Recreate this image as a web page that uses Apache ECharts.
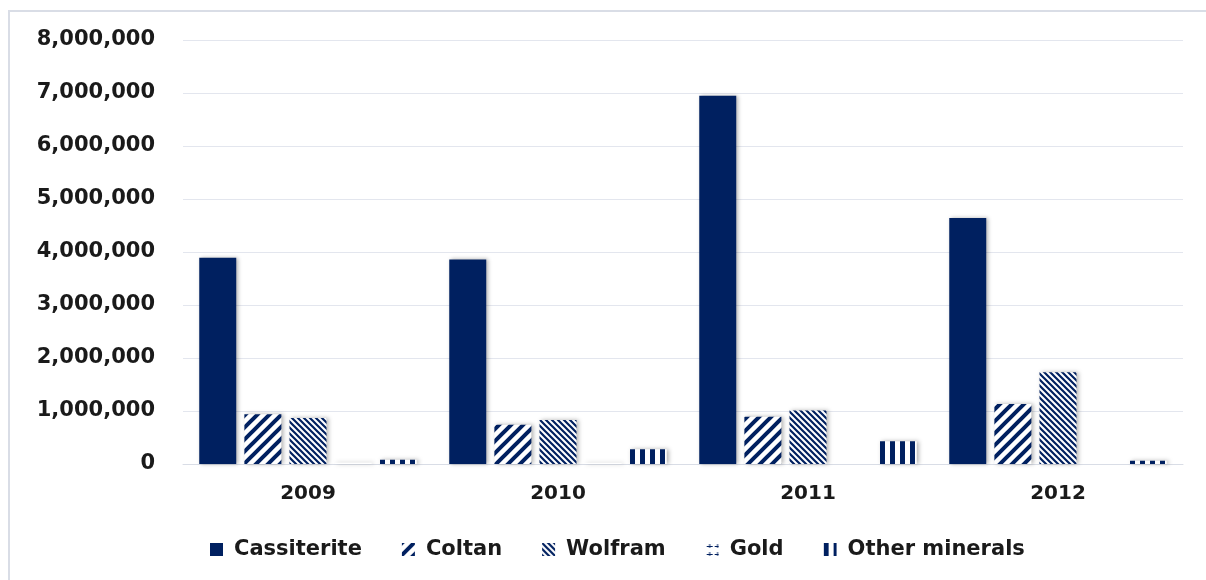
<!DOCTYPE html>
<html>
<head>
<meta charset="utf-8">
<script src="https://cdn.jsdelivr.net/npm/echarts@6/dist/echarts.min.js"></script>
<style>
html,body{margin:0;padding:0;background:#fff;}
#container{width:1206px;height:580px;}
</style>
</head>
<body>
<div id="container"></div>
<script>
var years = ['2009', '2010', '2011', '2012'];
var cassiterite = [3890000, 3860000, 6950000, 4640000];
var coltan = [940000, 740000, 890000, 1130000];
var wolfram = [870000, 830000, 1010000, 1730000];
var gold = [25000, 20000, 0, 0];
var other = [80000, 280000, 430000, 60000];
var yTicks = [0, 1000000, 2000000, 3000000, 4000000, 5000000, 6000000, 7000000, 8000000];

var NAVY = '#002060';

// motifs de remplissage (hachures)
function tile(size, draw) {
    var c = document.createElement('canvas');
    c.width = size;
    c.height = size;
    var ctx = c.getContext('2d');
    ctx.fillStyle = '#fff';
    ctx.fillRect(0, 0, size, size);
    ctx.strokeStyle = NAVY;
    ctx.fillStyle = NAVY;
    draw(ctx, size);
    return {image: c, repeat: 'repeat'};
}
function diag(up, w) {
    return function (ctx, s) {
        ctx.lineWidth = w;
        ctx.beginPath();
        if (up) {
            ctx.moveTo(0, s); ctx.lineTo(s, 0);
            ctx.moveTo(-2, 2); ctx.lineTo(2, -2);
            ctx.moveTo(s - 2, s + 2); ctx.lineTo(s + 2, s - 2);
        } else {
            ctx.moveTo(0, 0); ctx.lineTo(s, s);
            ctx.moveTo(-2, s - 2); ctx.lineTo(2, s + 2);
            ctx.moveTo(s - 2, -2); ctx.lineTo(s + 2, 2);
        }
        ctx.stroke();
    };
}
var coltanFill = tile(12, diag(true, 4));
var wolframFill = tile(6, diag(false, 2.2));
var goldFill = tile(8, function (ctx, s) {
    ctx.fillRect(3.5, 1, 1, 4);
    ctx.fillRect(1, 3, 6, 1);
});
var otherFill = tile(10, function (ctx, s) {
    ctx.fillRect(0, 0, 5, s);
});

function bar(name, data, fill) {
    return {
        name: name,
        type: 'bar',
        data: data,
        barGap: '22%',
        barCategoryGap: '13%',
        itemStyle: {
            color: fill,
            shadowColor: 'rgba(0,0,0,0.3)',
            shadowBlur: 4,
            shadowOffsetX: 2
        }
    };
}

var dom = document.getElementById('container');
var myChart = echarts.init(dom);
var option = {
    backgroundColor: '#fff',
    animation: false,
    graphic: [{
        type: 'rect',
        shape: {x: 9, y: 11, width: 1220, height: 620},
        style: {fill: 'none', stroke: '#d9dde6', lineWidth: 2},
        silent: true
    }],
    grid: {left: 183, right: 23, top: 40, bottom: 116},
    legend: {
        left: 205,
        bottom: 15,
        itemWidth: 13,
        itemHeight: 13,
        itemGap: 40,
        icon: 'rect',
        textStyle: {
            fontFamily: 'DejaVu Sans',
            fontWeight: 'bold',
            fontSize: 21,
            color: '#1a1a1a',
            padding: [0, 0, 0, 6]
        },
        data: ['Cassiterite', 'Coltan', 'Wolfram', 'Gold', 'Other minerals']
    },
    xAxis: {
        type: 'category',
        data: years,
        axisLine: {lineStyle: {color: '#d9dde6', width: 1}},
        axisTick: {show: false},
        axisLabel: {
            margin: 20,
            fontFamily: 'DejaVu Sans',
            fontWeight: 'bold',
            fontSize: 20,
            color: '#1a1a1a'
        }
    },
    yAxis: {
        type: 'value',
        min: yTicks[0],
        max: yTicks[yTicks.length - 1],
        interval: yTicks[1] - yTicks[0],
        splitLine: {lineStyle: {color: '#e3e6ee', width: 1}},
        axisLine: {show: false},
        axisTick: {show: false},
        axisLabel: {
            margin: 28,
            fontFamily: 'DejaVu Sans',
            fontWeight: 'bold',
            fontSize: 21,
            color: '#1a1a1a',
            formatter: function (v) {
                return v.toLocaleString('en-US');
            }
        }
    },
    series: [
        bar('Cassiterite', cassiterite, NAVY),
        bar('Coltan', coltan, coltanFill),
        bar('Wolfram', wolfram, wolframFill),
        bar('Gold', gold, goldFill),
        bar('Other minerals', other, otherFill)
    ]
};
myChart.setOption(option);
</script>
</body>
</html>
